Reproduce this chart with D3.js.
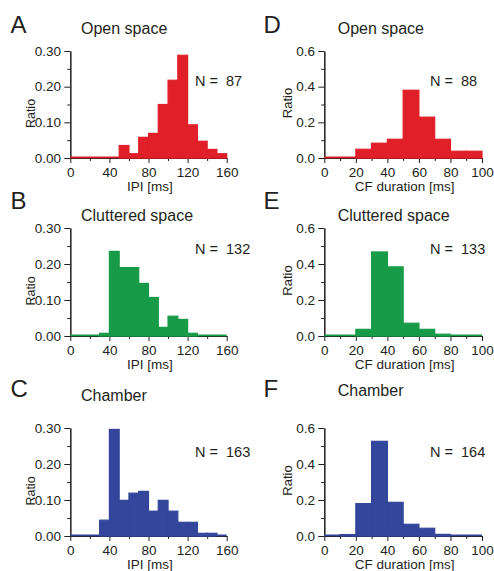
<!DOCTYPE html>
<html>
<head>
<meta charset="utf-8">
<script src="https://cdn.jsdelivr.net/npm/d3@7"></script>
<style>
  html, body { margin: 0; padding: 0; background: #fff; }
  svg { display: block; font-family: "Liberation Sans", Arial, Helvetica, sans-serif; }
  text { fill: #231f20; }
</style>
</head>
<body>
<svg id="chart" width="494" height="571"></svg>
<script>
// Histogram ratios, one value per 10 ms bin.
const ipiBinStarts = [0, 10, 20, 30, 40, 50, 60, 70, 80, 90, 100, 110, 120, 130, 140, 150];
const cfBinStarts = [0, 10, 20, 30, 40, 50, 60, 70, 80, 90];
const binWidth = 10;

const ipiOpen      = [0, 0, 0, 0, 0, 0.035, 0.012, 0.058, 0.069, 0.150, 0.218, 0.288, 0.093, 0.047, 0.024, 0.012];
const ipiCluttered = [0, 0, 0, 0.0075, 0.235, 0.190, 0.190, 0.146, 0.107, 0.024, 0.055, 0.046, 0.0075, 0, 0, 0];
const ipiChamber   = [0, 0, 0, 0.044, 0.296, 0.099, 0.119, 0.124, 0.069, 0.099, 0.069, 0.038, 0.038, 0.0075, 0.0075, 0];

const cfOpen       = [0, 0, 0.049, 0.083, 0.105, 0.380, 0.229, 0.105, 0.038, 0.038];
const cfCluttered  = [0, 0, 0.037, 0.467, 0.384, 0.071, 0.037, 0.010, 0, 0];
const cfChamber    = [0, 0.008, 0.180, 0.526, 0.187, 0.065, 0.043, 0.009, 0, 0];

const panelLetters = ["A", "B", "C", "D", "E", "F"];
const conditions = ["Open space", "Cluttered space", "Chamber"];
const counts = [87, 132, 163, 88, 133, 164];

const ipiTicks = [0, 40, 80, 120, 160];
const ipiMinorTicks = [20, 60, 100, 140];
const cfTicks = [0, 20, 40, 60, 80, 100];
const cfMinorTicks = [10, 30, 50, 70, 90];
const ipiRatioTicks = [0, 0.10, 0.20, 0.30];
const ipiRatioMinor = [0.05, 0.15, 0.25];
const cfRatioTicks = [0, 0.2, 0.4, 0.6];
const cfRatioMinor = [0.1, 0.3, 0.5];

const colors = ["#e01f29", "#189b48", "#33469b"];

// Layout
const svg = d3.select("#chart");
const cols = [
  { x0: 70.3, x1: 226.7, letterX: 10.5, titleX: 81, nX: 195, ratioX: 35, ratioShift: 9, ratioSize: 12.5 },
  { x0: 324.3, x1: 482, letterX: 263.5, titleX: 337.7, nX: 430, ratioX: 292, ratioShift: -1.5, ratioSize: 13 }
];
const rows = [
  { y0: 51, y1: 158, letterY: 33.3, titleY: [34, 34], nY: 85.5 },
  { y0: 228, y1: 336, letterY: 209, titleY: [220.7, 220.7], nY: 254 },
  { y0: 428, y1: 536, letterY: 396.7, titleY: [401, 395.7], nY: 456.7 }
];

const ipiSeries = [ipiOpen, ipiCluttered, ipiChamber];
const cfSeries = [cfOpen, cfCluttered, cfChamber];

function drawPanel(ci, ri) {
  const c = cols[ci], r = rows[ri];
  const isIpi = ci === 0;
  const values = isIpi ? ipiSeries[ri] : cfSeries[ri];
  const starts = isIpi ? ipiBinStarts : cfBinStarts;
  const color = colors[ri];
  const xMax = isIpi ? 160 : 100;
  const yMax = isIpi ? 0.30 : 0.6;

  const x = d3.scaleLinear().domain([0, xMax]).range([c.x0, c.x1]);
  const y = d3.scaleLinear().domain([0, yMax]).range([r.y1, r.y0]);

  const g = svg.append("g");

  // axes
  const yAxis = d3.axisLeft(y)
    .tickValues(isIpi ? ipiRatioTicks : cfRatioTicks)
    .tickFormat(isIpi ? d3.format(".2f") : d3.format(".1f"))
    .tickSize(6).tickSizeOuter(0).tickPadding(3.3);
  const yMinor = d3.axisLeft(y)
    .tickValues(isIpi ? ipiRatioMinor : cfRatioMinor)
    .tickFormat("").tickSize(3).tickSizeOuter(0);
  const xAxis = d3.axisBottom(x)
    .tickValues(isIpi ? ipiTicks : cfTicks)
    .tickFormat(d3.format("d"))
    .tickSize(5).tickSizeOuter(0).tickPadding(4.2);
  const xMinor = d3.axisBottom(x)
    .tickValues(isIpi ? ipiMinorTicks : cfMinorTicks)
    .tickFormat("").tickSize(3).tickSizeOuter(0);

  [
    g.append("g").attr("transform", `translate(${c.x0},0)`).call(yAxis),
    g.append("g").attr("transform", `translate(${c.x0},0)`).call(yMinor),
    g.append("g").attr("transform", `translate(0,${r.y1})`).call(xAxis),
    g.append("g").attr("transform", `translate(0,${r.y1})`).call(xMinor)
  ].forEach(a => {
    a.selectAll("path.domain").attr("stroke", "#231f20").attr("stroke-width", 1.1);
    a.selectAll(".tick line").attr("stroke", "#231f20").attr("stroke-width", 1);
    a.selectAll(".tick text")
      .attr("font-size", 13.5)
      .attr("font-family", "Liberation Sans, Arial, sans-serif")
      .style("fill", "#231f20");
  });

  // coloured baseline along the whole histogram range (empty bins show as a line)
  g.append("line")
    .attr("x1", x(0)).attr("x2", x(xMax))
    .attr("y1", y(0) - 0.6).attr("y2", y(0) - 0.6)
    .attr("stroke", color).attr("stroke-width", 1.8);

  // bars
  g.append("g").selectAll("rect")
    .data(values.map((v, i) => ({ start: starts[i], v })).filter(d => d.v > 0))
    .join("rect")
    .attr("x", d => x(d.start))
    .attr("width", d => x(d.start + binWidth) - x(d.start))
    .attr("y", d => y(d.v))
    .attr("height", d => y(0) - y(d.v))
    .attr("fill", color)
    .attr("stroke", color)
    .attr("stroke-width", 1.2);

  // labels
  g.append("text")
    .attr("x", c.letterX).attr("y", r.letterY)
    .attr("font-size", 24)
    .text(panelLetters[ci * 3 + ri]);

  g.append("text")
    .attr("x", c.titleX).attr("y", r.titleY[ci])
    .attr("font-size", 16)
    .text(conditions[ri]);

  g.append("text")
    .attr("x", c.nX).attr("y", r.nY)
    .attr("font-size", 14.5)
    .attr("xml:space", "preserve")
    .style("white-space", "pre")
    .text("N =  " + counts[ci * 3 + ri]);

  g.append("text")
    .attr("transform", `translate(${c.ratioX},${(r.y0 + r.y1) / 2 + c.ratioShift}) rotate(-90)`)
    .attr("text-anchor", "middle")
    .attr("font-size", c.ratioSize)
    .text("Ratio");

  g.append("text")
    .attr("x", (c.x0 + c.x1) / 2 + 1.5).attr("y", r.y1 + 32.5)
    .attr("text-anchor", "middle")
    .attr("font-size", 13.5)
    .text(isIpi ? "IPI [ms]" : "CF duration [ms]");
}

for (let ci = 0; ci < 2; ci++) {
  for (let ri = 0; ri < 3; ri++) drawPanel(ci, ri);
}
</script>
</body>
</html>
